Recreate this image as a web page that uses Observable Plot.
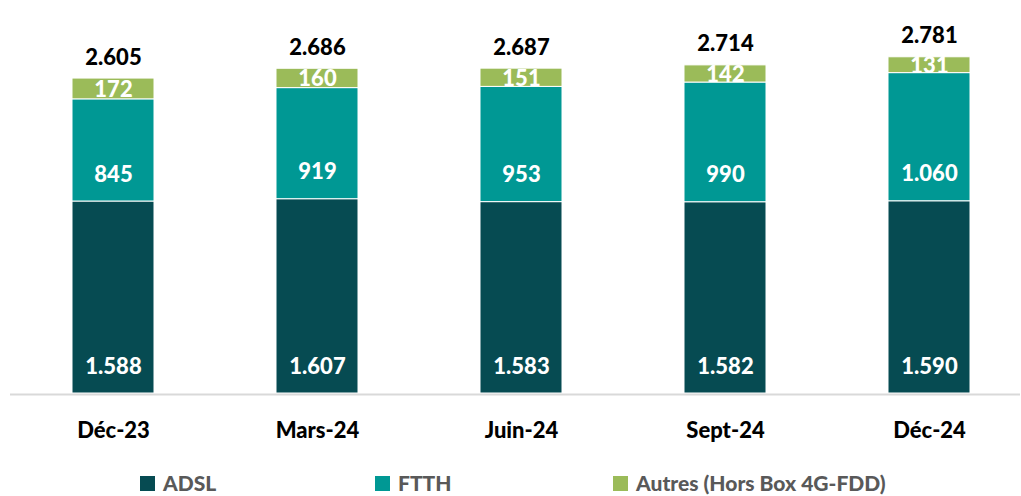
<!DOCTYPE html>
<html><head><meta charset="utf-8">
<script src="https://cdn.jsdelivr.net/npm/d3@7"></script>
<script src="https://cdn.jsdelivr.net/npm/@observablehq/plot@0.6"></script>
<style>
html,body{margin:0;background:#fff;font-family:Lato,"Open Sans",sans-serif;overflow:hidden;}
#legend{position:relative;height:28px;margin-top:14px;}
.item{position:absolute;top:0;height:28px;line-height:28px;display:flex;align-items:center;font-weight:900;font-size:21px;color:#595959;}
.sw{width:15px;height:15px;margin-right:8px;}
</style></head>
<body>
<div id="chart"></div>
<div id="legend"></div>
<script>
const periods = ["Déc-23","Mars-24","Juin-24","Sept-24","Déc-24"];
const series = ["ADSL","FTTH","Autres (Hors Box 4G-FDD)"];
const adsl = [1588,1607,1583,1582,1590];
const ftth = [845,919,953,990,1060];
const autres = [172,160,151,142,131];
const totals = [2605,2686,2687,2714,2781];
const colors = ["#064B52","#009894","#9BBB59"];

const fmt = v => v.toLocaleString("de-DE");
const rows = [];
periods.forEach((p,i)=>{
  const vals=[adsl[i],ftth[i],autres[i]];
  let acc=0;
  vals.forEach((v,j)=>{rows.push({period:p,series:series[j],value:v,y1:acc,y2:acc+v});acc+=v;});
});
const totalRows = periods.map((p,i)=>({period:p,total:totals[i]}));

const chart = Plot.plot({
  width:1021, height:455,
  marginLeft:10, marginRight:1, marginTop:0, marginBottom:0,
  style:{fontFamily:"Lato, 'Open Sans', sans-serif",display:"block"},
  x:{domain:periods, range:[10,1032.5], paddingInner:0.6, paddingOuter:0.3, axis:null},
  y:{domain:[0,3000], range:[393,30.3], axis:null},
  color:{domain:series, range:colors},
  marks:[
    Plot.barY(rows,{x:"period",y1:"y1",y2:"y2",fill:"series",stroke:"white",strokeWidth:1}),
    Plot.ruleY([0],{stroke:"#d9d9d9",strokeWidth:2,dy:1}),
    Plot.text(rows.filter(d=>d.series!==series[2]),{x:"period",y:"y1",text:d=>fmt(d.value),dy:-27,fill:"white",fontWeight:900,fontSize:22}),
    Plot.text(rows.filter(d=>d.series===series[2]),{x:"period",y:d=>(d.y1+d.y2)/2,text:d=>fmt(d.value),dy:1,fill:"white",fontWeight:900,fontSize:22}),
    Plot.text(totalRows,{x:"period",y:"total",text:d=>fmt(d.total),dy:-21,fill:"black",fontWeight:900,fontSize:22}),
    Plot.text(periods,{x:d=>d,y:0,text:d=>d,dy:37,fill:"black",fontWeight:900,fontSize:22})
  ]
});
document.getElementById("chart").appendChild(chart);

const lg=document.getElementById("legend");
const lx=[140,375,613];
series.forEach((s,i)=>{
  const it=document.createElement("div");it.className="item";it.style.left=lx[i]+"px";
  const sw=document.createElement("span");sw.className="sw";sw.style.background=colors[i];
  const t=document.createElement("span");t.textContent=s;
  it.appendChild(sw);it.appendChild(t);lg.appendChild(it);
});
</script>
</body></html>
